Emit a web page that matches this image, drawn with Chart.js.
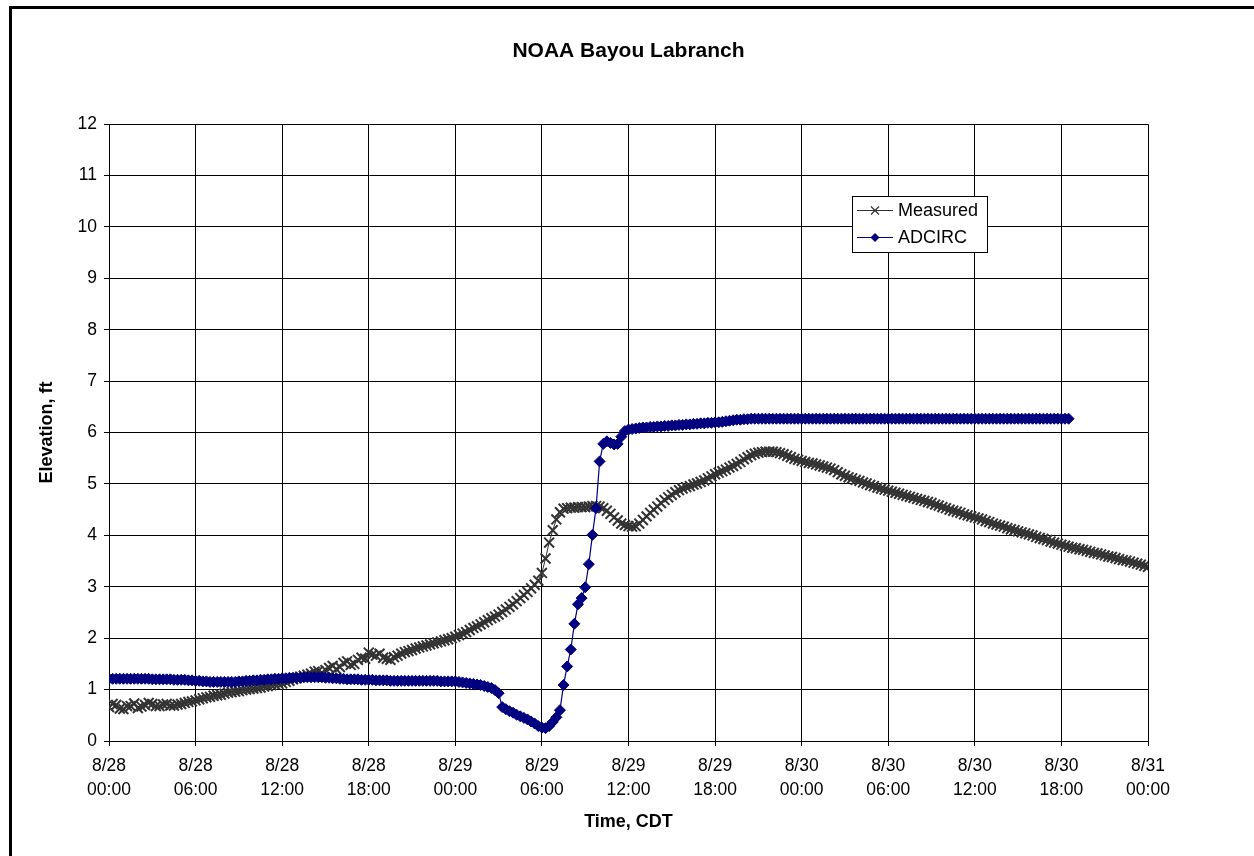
<!DOCTYPE html>
<html>
<head>
<meta charset="utf-8">
<title>NOAA Bayou Labranch</title>
<script src="https://cdn.jsdelivr.net/npm/chart.js@4"></script>
<style>
  html, body { margin: 0; padding: 0; background: #fff; }
  canvas { display: block; }
</style>
</head>
<body>
<canvas id="stage" width="1254" height="856"></canvas>
<script>
// x axis: hours after 8/28 00:00 CDT
const tickDates = ['8/28', '8/28', '8/28', '8/28', '8/29', '8/29', '8/29', '8/29', '8/30', '8/30', '8/30', '8/30', '8/31'];
const tickTimes = ['00:00', '06:00', '12:00', '18:00', '00:00', '06:00', '12:00', '18:00', '00:00', '06:00', '12:00', '18:00', '00:00'];

// Measured gauge, a reading every 15 min from 0 h (one row = one hour)
const measuredStepHours = 0.25;
const measuredElev = [
  0.66, 0.72, 0.70, 0.63,  0.62, 0.68, 0.68, 0.73,  0.64, 0.67, 0.70, 0.74,
  0.72, 0.68, 0.68, 0.71,  0.72, 0.69, 0.69, 0.71,  0.72, 0.74, 0.76, 0.77,
  0.79, 0.81, 0.83, 0.85,  0.86, 0.88, 0.89, 0.90,  0.92, 0.94, 0.95, 0.96,
  0.97, 0.99, 1.00, 1.01,  1.02, 1.03, 1.04, 1.06,  1.07, 1.09, 1.10, 1.11,
  1.12, 1.15, 1.17, 1.20,  1.22, 1.25, 1.27, 1.29,  1.31, 1.35, 1.36, 1.33,
  1.38, 1.42, 1.46, 1.40,  1.44, 1.52, 1.55, 1.48,  1.50, 1.58, 1.62, 1.60,
  1.72, 1.68, 1.66, 1.70,  1.62, 1.60, 1.58, 1.63,  1.66, 1.70, 1.73, 1.75,
  1.77, 1.80, 1.82, 1.84,  1.86, 1.88, 1.90, 1.92,  1.94, 1.96, 1.98, 2.00,
  2.03, 2.06, 2.09, 2.12,  2.16, 2.20, 2.23, 2.27,  2.31, 2.35, 2.39, 2.42,
  2.46, 2.51, 2.56, 2.61,  2.66, 2.72, 2.78, 2.84,  2.90, 2.97, 3.04, 3.12,
  3.27, 3.55, 3.86, 4.10,  4.31, 4.45, 4.52, 4.53,  4.54, 4.54, 4.55, 4.55,
  4.55, 4.56, 4.57, 4.57,  4.56, 4.53, 4.48, 4.42,  4.35, 4.29, 4.23, 4.20,
  4.18, 4.17, 4.18, 4.23,  4.30, 4.37, 4.44, 4.50,  4.56, 4.63, 4.69, 4.74,
  4.79, 4.84, 4.88, 4.91,  4.94, 4.96, 4.99, 5.01,  5.04, 5.07, 5.11, 5.15,
  5.19, 5.22, 5.25, 5.28,  5.32, 5.35, 5.39, 5.43,  5.48, 5.52, 5.56, 5.59,
  5.61, 5.62, 5.63, 5.63,  5.63, 5.62, 5.60, 5.58,  5.55, 5.52, 5.49, 5.47,
  5.45, 5.43, 5.41, 5.40,  5.38, 5.36, 5.34, 5.32,  5.30, 5.27, 5.23, 5.19,
  5.16, 5.13, 5.11, 5.08,  5.06, 5.03, 5.01, 4.98,  4.96, 4.93, 4.91, 4.89,
  4.87, 4.85, 4.83, 4.81,  4.79, 4.77, 4.75, 4.73,  4.71, 4.69, 4.67, 4.65,
  4.63, 4.60, 4.58, 4.55,  4.53, 4.50, 4.48, 4.46,  4.44, 4.41, 4.39, 4.37,
  4.35, 4.33, 4.31, 4.28,  4.26, 4.23, 4.21, 4.19,  4.17, 4.14, 4.12, 4.10,
  4.08, 4.06, 4.04, 4.02,  4.00, 3.97, 3.95, 3.93,  3.91, 3.88, 3.86, 3.84,
  3.82, 3.80, 3.78, 3.76,  3.75, 3.73, 3.72, 3.70,  3.68, 3.66, 3.65, 3.63,
  3.61, 3.59, 3.58, 3.56,  3.54, 3.52, 3.51, 3.49,  3.47, 3.45, 3.43, 3.41,
  3.39
];

// ADCIRC model output, every 15 min from 0 h to 66.5 h
const adcircStepHours = 0.25;
const adcircElev = [
  1.21, 1.21, 1.21, 1.21,  1.21, 1.21, 1.21, 1.21,  1.21, 1.21, 1.21, 1.21,
  1.20, 1.20, 1.20, 1.20,  1.20, 1.20, 1.19, 1.19,  1.19, 1.19, 1.18, 1.18,
  1.17, 1.17, 1.16, 1.16,  1.15, 1.15, 1.15, 1.15,  1.15, 1.15, 1.15, 1.15,
  1.16, 1.16, 1.17, 1.17,  1.18, 1.18, 1.19, 1.19,  1.20, 1.20, 1.21, 1.21,
  1.22, 1.22, 1.23, 1.23,  1.23, 1.23, 1.24, 1.24,  1.24, 1.24, 1.24, 1.24,
  1.23, 1.23, 1.22, 1.22,  1.21, 1.21, 1.20, 1.20,  1.20, 1.20, 1.19, 1.19,
  1.19, 1.19, 1.18, 1.18,  1.18, 1.18, 1.17, 1.17,  1.17, 1.17, 1.17, 1.17,
  1.17, 1.17, 1.17, 1.17,  1.17, 1.17, 1.17, 1.17,  1.16, 1.16, 1.16, 1.16,
  1.16, 1.15, 1.14, 1.13,  1.12, 1.11, 1.10, 1.09,  1.07, 1.05, 1.03, 0.99,
  0.93, 0.66, 0.62, 0.58,  0.55, 0.51, 0.48, 0.45,  0.42, 0.38, 0.34, 0.29,
  0.26, 0.25, 0.29, 0.37,  0.46, 0.60, 1.09, 1.45,  1.78, 2.28, 2.66, 2.78,
  2.99, 3.44, 4.01, 4.53,  5.44, 5.78, 5.83, 5.80,  5.77, 5.78, 5.92, 6.03,
  6.06, 6.07, 6.08, 6.09,  6.10, 6.10, 6.11, 6.11,  6.12, 6.12, 6.13, 6.13,
  6.14, 6.14, 6.15, 6.15,  6.16, 6.16, 6.17, 6.17,  6.18, 6.18, 6.19, 6.19,
  6.20, 6.20, 6.21, 6.22,  6.23, 6.24, 6.25, 6.25,  6.26, 6.26, 6.27, 6.27,
  6.27, 6.27, 6.27, 6.27,  6.27, 6.27, 6.27, 6.27,  6.27, 6.27, 6.27, 6.27,
  6.27, 6.27, 6.27, 6.27,  6.27, 6.27, 6.27, 6.27,  6.27, 6.27, 6.27, 6.27,
  6.27, 6.27, 6.27, 6.27,  6.27, 6.27, 6.27, 6.27,  6.27, 6.27, 6.27, 6.27,
  6.27, 6.27, 6.27, 6.27,  6.27, 6.27, 6.27, 6.27,  6.27, 6.27, 6.27, 6.27,
  6.27, 6.27, 6.27, 6.27,  6.27, 6.27, 6.27, 6.27,  6.27, 6.27, 6.27, 6.27,
  6.27, 6.27, 6.27, 6.27,  6.27, 6.27, 6.27, 6.27,  6.27, 6.27, 6.27, 6.27,
  6.27, 6.27, 6.27, 6.27,  6.27, 6.27, 6.27, 6.27,  6.27, 6.27, 6.27, 6.27,
  6.27, 6.27, 6.27
];

const FONT = "'Liberation Sans', Arial, sans-serif";
const MEASURED_COLOR = '#333333';
const ADCIRC_COLOR = '#000080';

// white page plus the heavy frame round the whole chart
const framePlugin = {
  id: 'frame',
  beforeDraw(chart) {
    const c = chart.ctx;
    c.save();
    c.fillStyle = '#fff';
    c.fillRect(0, 0, chart.width, chart.height);
    c.strokeStyle = '#000';
    c.lineWidth = 3;
    c.strokeRect(10.5, 7.5, chart.width + 20, chart.height + 20);
    c.restore();
  }
};

// boxed legend inside the plot, like the spreadsheet original
const boxLegend = {
  id: 'boxLegend',
  afterDraw(chart) {
    const c = chart.ctx;
    const left = 852, top = 196, w = 135, h = 56;
    c.save();
    c.fillStyle = '#fff';
    c.fillRect(left, top, w, h);
    c.strokeStyle = '#000';
    c.lineWidth = 1;
    c.strokeRect(left + 0.5, top + 0.5, w, h);

    const rows = [
      { text: 'Measured', color: MEASURED_COLOR, y: 210.5, mark: 'x' },
      { text: 'ADCIRC', color: ADCIRC_COLOR, y: 237.5, mark: 'diamond' }
    ];
    rows.forEach(r => {
      c.strokeStyle = r.color;
      c.lineWidth = 1;
      c.beginPath();
      c.moveTo(left + 5, r.y);
      c.lineTo(left + 41, r.y);
      c.stroke();
      const mx = left + 23;
      if (r.mark === 'x') {
        c.lineWidth = 1.2;
        c.beginPath();
        c.moveTo(mx - 4, r.y - 4); c.lineTo(mx + 4, r.y + 4);
        c.moveTo(mx + 4, r.y - 4); c.lineTo(mx - 4, r.y + 4);
        c.stroke();
      } else {
        c.fillStyle = r.color;
        c.beginPath();
        c.moveTo(mx, r.y - 4.5); c.lineTo(mx + 4.5, r.y);
        c.lineTo(mx, r.y + 4.5); c.lineTo(mx - 4.5, r.y);
        c.closePath();
        c.fill();
      }
      c.fillStyle = '#000';
      c.font = '18px ' + FONT;
      c.textAlign = 'left';
      c.textBaseline = 'middle';
      c.fillText(r.text, left + 46, r.y + 1);
    });
    c.restore();
  }
};

new Chart(document.getElementById('stage').getContext('2d'), {
  type: 'line',
  data: {
    datasets: [
      {
        label: 'Measured',
        data: measuredElev.map((v, i) => ({ x: i * measuredStepHours, y: v })),
        borderColor: MEASURED_COLOR,
        backgroundColor: MEASURED_COLOR,
        borderWidth: 1,
        pointStyle: 'crossRot',
        pointRadius: 7,
        pointBorderWidth: 2,
        pointBorderColor: MEASURED_COLOR,
        tension: 0,
        order: 2
      },
      {
        label: 'ADCIRC',
        data: adcircElev.map((v, i) => ({ x: i * adcircStepHours, y: v })),
        borderColor: ADCIRC_COLOR,
        backgroundColor: ADCIRC_COLOR,
        borderWidth: 1.2,
        pointStyle: 'rectRot',
        pointRadius: 5.5,
        pointBorderWidth: 1,
        pointBorderColor: ADCIRC_COLOR,
        tension: 0,
        order: 1
      }
    ]
  },
  options: {
    responsive: false,
    animation: false,
    events: [],
    layout: { padding: { left: 0, right: 106, top: 0, bottom: 0 } },
    plugins: {
      legend: { display: false },
      tooltip: { enabled: false },
      title: {
        display: true,
        fullSize: false,
        text: 'NOAA Bayou Labranch',
        color: '#000',
        font: { family: FONT, size: 21, weight: 'bold' },
        padding: { top: 39, bottom: 60 }
      }
    },
    scales: {
      x: {
        type: 'linear',
        min: 0,
        max: 72,
        afterFit: (scale) => { scale.height = 115; },
        border: { color: '#000', width: 1 },
        grid: { color: '#000', lineWidth: 1, tickLength: 5, tickColor: '#000' },
        ticks: {
          stepSize: 6,
          autoSkip: false,
          maxRotation: 0,
          padding: 8,
          color: '#000',
          font: { family: FONT, size: 17.5, lineHeight: 1.37 },
          callback: (value) => {
            const i = Math.round(value / 6);
            return [tickDates[i], tickTimes[i]];
          }
        },
        title: {
          display: true,
          text: 'Time, CDT',
          color: '#000',
          font: { family: FONT, size: 18, weight: 'bold' },
          padding: { top: 0, bottom: 23 }
        }
      },
      y: {
        min: 0,
        max: 12,
        afterFit: (scale) => { scale.width = 109; },
        border: { color: '#000', width: 1 },
        grid: { color: '#000', lineWidth: 1, tickLength: 5, tickColor: '#000' },
        ticks: {
          stepSize: 1,
          padding: 7,
          color: '#000',
          font: { family: FONT, size: 17.5 }
        },
        title: {
          display: true,
          text: 'Elevation, ft',
          color: '#000',
          font: { family: FONT, size: 18, weight: 'bold' },
          padding: { top: 36, bottom: 0 }
        }
      }
    }
  },
  plugins: [framePlugin, boxLegend]
});
</script>
</body>
</html>
